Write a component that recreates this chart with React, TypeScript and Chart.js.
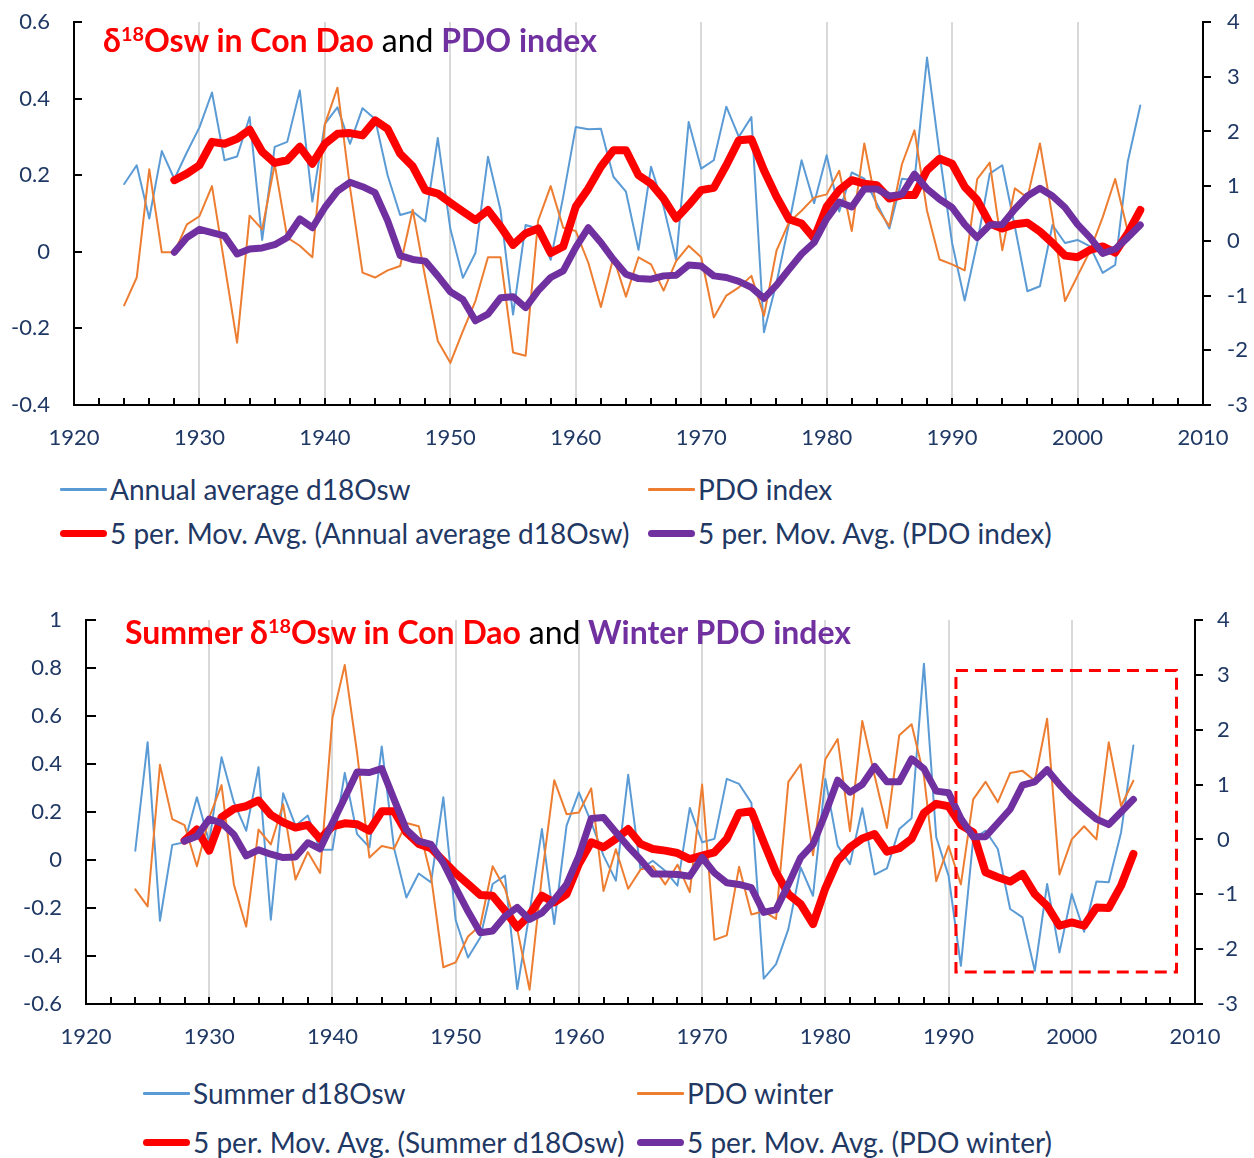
import { useEffect, useRef } from 'react';
import Chart from 'chart.js/auto';

// ---- Data -----------------------------------------------------------------
const FIRST_YEAR = 1924;   // raw series start
const MA_FIRST_YEAR = 1928; // 5-period moving averages start

// Panel 1: annual values
const ANNUAL_D18OSW = [
  0.177, 0.226, 0.087, 0.263, 0.19, 0.26, 0.325, 0.416, 0.239, 0.249,
  0.352, 0.031, 0.274, 0.287, 0.421, 0.131, 0.334, 0.377, 0.282, 0.375,
  0.347, 0.2, 0.096, 0.105, 0.079, 0.297, 0.06, -0.068, -0.003, 0.248,
  0.109, -0.164, 0.07, 0.061, -0.021, 0.144, 0.326, 0.32, 0.321, 0.196,
  0.157, 0.005, 0.222, 0.118, -0.021, 0.339, 0.217, 0.239, 0.379, 0.3,
  0.352, -0.21, -0.081, 0.074, 0.239, 0.127, 0.252, 0.105, 0.207, 0.191,
  0.126, 0.061, 0.191, 0.187, 0.507, 0.256, 0.023, -0.127, 0.023, 0.204,
  0.226, 0.066, -0.103, -0.09, 0.07, 0.023, 0.031, 0.014, -0.055, -0.034,
  0.235, 0.382,
];
const PDO_INDEX = [
  -1.18, -0.67, 1.31, -0.21, -0.21, 0.3, 0.45, 1.0, -0.43, -1.86,
  0.46, 0.21, 1.4, 0.06, -0.09, -0.3, 2.13, 2.8, 0.98, -0.58,
  -0.67, -0.54, -0.46, 0.57, -0.67, -1.83, -2.23, -1.65, -1.1, -0.3,
  -0.3, -2.04, -2.1, 0.37, 1.0, 0.24, 0.18, -0.4, -1.21, -0.3,
  -1.02, -0.3, -0.43, -0.91, -0.37, -0.09, -0.3, -1.4, -1.0, -0.85,
  -0.64, -1.37, -0.18, 0.34, 0.55, 0.79, 0.85, 1.28, 0.18, 1.78,
  0.61, 0.27, 1.4, 2.02, 0.55, -0.34, -0.43, -0.54, 1.13, 1.43,
  -0.17, 0.96, 0.79, 1.78, 0.43, -1.1, -0.64, -0.18, 0.43, 1.13,
  0.18, 0.24,
];
const ANNUAL_D18OSW_MA5 = [
  0.187, 0.204, 0.226, 0.287, 0.282, 0.295, 0.319, 0.261, 0.232, 0.239,
  0.274, 0.23, 0.282, 0.308, 0.31, 0.304, 0.343, 0.321, 0.256, 0.223,
  0.161, 0.152, 0.128, 0.105, 0.083, 0.109, 0.066, 0.018, 0.048, 0.061,
  -0.003, 0.014, 0.118, 0.165, 0.222, 0.265, 0.265, 0.2, 0.178, 0.139,
  0.087, 0.122, 0.161, 0.167, 0.226, 0.291, 0.294, 0.213, 0.144, 0.085,
  0.074, 0.035, 0.118, 0.161, 0.187, 0.178, 0.174, 0.139, 0.148, 0.148,
  0.213, 0.243, 0.23, 0.17, 0.135, 0.074, 0.061, 0.072, 0.076, 0.053,
  0.023, -0.01, -0.014, 0.005, 0.014, -0.002, 0.048, 0.109,
];
const PDO_INDEX_MA5 = [
  -0.21, 0.06, 0.21, 0.15, 0.09, -0.24, -0.15, -0.13, -0.07, 0.06,
  0.4, 0.24, 0.61, 0.91, 1.07, 0.99, 0.88, 0.37, -0.27, -0.34,
  -0.37, -0.64, -0.93, -1.07, -1.46, -1.34, -1.04, -1.02, -1.22, -0.91,
  -0.67, -0.55, -0.12, 0.24, -0.03, -0.34, -0.61, -0.69, -0.7, -0.64,
  -0.63, -0.44, -0.46, -0.64, -0.67, -0.74, -0.85, -1.05, -0.81, -0.52,
  -0.24, -0.03, 0.4, 0.71, 0.62, 0.95, 0.95, 0.82, 0.85, 1.22,
  0.95, 0.76, 0.61, 0.3, 0.06, 0.29, 0.3, 0.58, 0.82, 0.96,
  0.82, 0.61, 0.3, 0.06, -0.23, -0.15, 0.06, 0.29,
];

// Panel 2: seasonal values
const SUMMER_D18OSW = [
  0.039, 0.491, -0.253, 0.063, 0.074, 0.261, 0.074, 0.428, 0.241, 0.122,
  0.387, -0.249, 0.278, 0.143, 0.185, 0.043, 0.043, 0.363, 0.108, 0.053,
  0.473, 0.049, -0.156, -0.056, -0.093, 0.261, -0.25, -0.406, -0.323, -0.1,
  -0.065, -0.538, -0.218, 0.129, -0.267, 0.143, 0.282, 0.157, 0.018, -0.086,
  0.355, -0.038, -0.003, -0.045, -0.107, 0.217, 0.074, 0.088, 0.338, 0.317,
  0.238, -0.494, -0.434, -0.288, -0.031, -0.149, 0.338, 0.06, -0.017, 0.216,
  -0.061, -0.035, 0.129, 0.174, 0.818, 0.095, -0.065, -0.441, 0.088, 0.122,
  0.046, -0.204, -0.239, -0.462, -0.1, -0.385, -0.142, -0.299, -0.09, -0.093,
  0.115, 0.477,
];
const PDO_WINTER = [
  -0.91, -1.22, 1.36, 0.37, 0.26, -0.49, 0.4, 0.99, -0.82, -1.59,
  0.18, -0.09, 0.64, -0.73, -0.23, -0.61, 2.22, 3.18, 1.58, -0.33,
  -0.12, -0.17, 0.3, 0.24, -0.67, -2.33, -2.24, -1.77, -1.57, -0.49,
  -0.9, -1.64, -2.74, -0.67, 1.08, 0.46, 0.49, 0.93, -0.94, -0.18,
  -0.9, -0.55, -0.49, -0.82, -0.46, -0.96, 1.0, -1.83, -1.75, -0.5,
  -1.37, -1.31, -1.45, 1.05, 1.37, -0.29, 1.46, 1.83, 0.15, 2.16,
  1.16, 0.21, 1.9, 2.1, 1.16, -0.76, -0.12, -0.82, 0.73, 1.05,
  0.68, 1.21, 1.25, 1.07, 2.2, -0.64, 0.0, 0.24, 0.0, 1.77,
  0.61, 1.07,
];
const SUMMER_D18OSW_MA5 = [
  0.081, 0.127, 0.039, 0.178, 0.213, 0.224, 0.248, 0.188, 0.157, 0.135,
  0.146, 0.088, 0.14, 0.153, 0.149, 0.122, 0.203, 0.203, 0.115, 0.067,
  0.049, -0.003, -0.055, -0.1, -0.146, -0.149, -0.211, -0.281, -0.229, -0.149,
  -0.177, -0.142, -0.017, 0.074, 0.053, 0.088, 0.129, 0.067, 0.046, 0.039,
  0.029, 0.004, 0.018, 0.032, 0.088, 0.196, 0.203, 0.074, -0.051, -0.142,
  -0.184, -0.267, -0.118, -0.003, 0.053, 0.09, 0.108, 0.035, 0.049, 0.088,
  0.196, 0.234, 0.224, 0.146, 0.115, -0.051, -0.072, -0.09, -0.058, -0.142,
  -0.191, -0.274, -0.26, -0.274, -0.198, -0.2, -0.107, 0.025,
];
const PDO_WINTER_MA5 = [
  -0.03, 0.06, 0.37, 0.3, 0.09, -0.3, -0.19, -0.27, -0.33, -0.32,
  -0.06, -0.17, 0.3, 0.76, 1.23, 1.22, 1.29, 0.73, 0.18, -0.03,
  -0.09, -0.43, -0.88, -1.31, -1.7, -1.67, -1.4, -1.24, -1.46, -1.34,
  -1.1, -0.82, -0.3, 0.38, 0.4, 0.13, -0.13, -0.37, -0.63, -0.63,
  -0.64, -0.67, -0.33, -0.61, -0.79, -0.82, -0.88, -1.33, -1.28, -0.82,
  -0.33, -0.09, 0.47, 1.08, 0.86, 1.0, 1.33, 1.05, 1.05, 1.47,
  1.29, 0.88, 0.85, 0.38, 0.05, 0.05, 0.3, 0.55, 0.99, 1.05,
  1.27, 1.0, 0.76, 0.56, 0.37, 0.27, 0.5, 0.73,
];

// Axis ranges
const YEAR_RANGE = [1920, 2010];
const TOP_LEFT_RANGE = [-0.4, 0.6];
const BOTTOM_LEFT_RANGE = [-0.6, 1.0];
const PDO_RANGE = [-3, 4];

// Highlighted recent period (years, d18Osw units)
const HIGHLIGHT_YEARS = [1990.6, 2008.5];
const HIGHLIGHT_D18O = [-0.467, 0.79];

// ---- Styling --------------------------------------------------------------
const BLUE = '#5B9BD5';
const ORANGE = '#ED7D31';
const RED = '#FF0000';
const PURPLE = '#7030A0';
const NAVY = '#1F3864';
const FONT = 'Lato, "Open Sans", sans-serif';

const toPoints = (start: number, values: number[]) =>
  values.map((v, i) => ({ x: start + i, y: v }));

const fmt = (v: number) => {
  const r = Math.round(v * 10) / 10;
  return Math.abs(r) < 1e-9 ? '0' : String(r);
};

// Tick marks: x every 2 years pointing up, left ticks inside, right ticks outside
const axisTicks = {
  id: 'axisTicks',
  afterDraw(chart: any, _args: any, opts: any) {
    const { ctx, chartArea: a, scales } = chart;
    const x = scales.x, yl = scales.yL, yr = scales.yR;
    ctx.save();
    ctx.strokeStyle = '#000';
    ctx.lineWidth = 2;
    ctx.beginPath();
    for (let yv = YEAR_RANGE[0] + 2; yv < YEAR_RANGE[1]; yv += 2) {
      const px = Math.round(x.getPixelForValue(yv));
      ctx.moveTo(px, a.bottom);
      ctx.lineTo(px, a.bottom - opts.xLen);
    }
    yl.ticks.forEach((t: any) => {
      const py = Math.round(yl.getPixelForValue(t.value));
      ctx.moveTo(a.left, py);
      ctx.lineTo(a.left + opts.leftLen, py);
    });
    yr.ticks.forEach((t: any) => {
      const py = Math.round(yr.getPixelForValue(t.value));
      ctx.moveTo(a.right, py);
      ctx.lineTo(a.right + opts.rightLen, py);
    });
    ctx.stroke();
    ctx.restore();
  },
};

// Dashed frame around the recent period
const highlightBox = {
  id: 'highlightBox',
  afterDatasetsDraw(chart: any, _args: any, opts: any) {
    if (!opts || !opts.enabled) return;
    const { ctx, scales } = chart;
    const x0 = scales.x.getPixelForValue(HIGHLIGHT_YEARS[0]);
    const x1 = scales.x.getPixelForValue(HIGHLIGHT_YEARS[1]);
    const y0 = scales.yL.getPixelForValue(HIGHLIGHT_D18O[1]);
    const y1 = scales.yL.getPixelForValue(HIGHLIGHT_D18O[0]);
    ctx.save();
    ctx.strokeStyle = RED;
    ctx.lineWidth = 3;
    ctx.setLineDash([12, 7]);
    ctx.strokeRect(x0, y0, x1 - x0, y1 - y0);
    ctx.restore();
  },
};

interface PanelProps {
  raw1: number[];
  raw2: number[];
  ma1: number[];
  ma2: number[];
  leftRange: number[];
  leftW: number;
  rightW: number;
  xH: number;
  padTop: number;
  height: number;
  leftGap: number;
  rightGap: number;
  xPad: number;
  leftTickLen: number;
  box: boolean;
}

function Panel(p: PanelProps) {
  const ref = useRef<HTMLCanvasElement>(null);
  useEffect(() => {
    if (!ref.current) return;
    const line = (data: any[], color: string, width: number, axis: string, order: number) => ({
      data,
      borderColor: color,
      backgroundColor: color,
      borderWidth: width,
      pointRadius: 0,
      tension: 0,
      fill: false,
      yAxisID: axis,
      order,
      borderCapStyle: 'round',
      borderJoinStyle: 'round',
    });
    const tickFont = { family: FONT, size: 22 };
    // invisible tick marks only reserve the gap between axis line and labels
    const spacer = (len: number) => ({
      display: true,
      drawOnChartArea: false,
      drawTicks: true,
      tickLength: len,
      tickColor: 'rgba(0,0,0,0)',
      color: 'rgba(0,0,0,0)',
    });
    const chart = new Chart(ref.current, {
      type: 'line',
      data: {
        datasets: [
          line(toPoints(FIRST_YEAR, p.raw1), BLUE, 2, 'yL', 4),
          line(toPoints(FIRST_YEAR, p.raw2), ORANGE, 2, 'yR', 3),
          line(toPoints(MA_FIRST_YEAR, p.ma1), RED, 8, 'yL', 2),
          line(toPoints(MA_FIRST_YEAR, p.ma2), PURPLE, 7, 'yR', 1),
        ] as any,
      },
      options: {
        animation: false,
        responsive: false,
        devicePixelRatio: 1,
        layout: { padding: { top: p.padTop, left: 0, right: 0, bottom: 0 } },
        plugins: {
          legend: { display: false },
          tooltip: { enabled: false },
          axisTicks: { xLen: 7, leftLen: p.leftTickLen, rightLen: 8 },
          highlightBox: { enabled: p.box },
        } as any,
        scales: {
          x: {
            type: 'linear',
            min: YEAR_RANGE[0],
            max: YEAR_RANGE[1],
            afterFit: (s: any) => { s.height = p.xH; },
            ticks: {
              stepSize: 10,
              font: tickFont,
              color: NAVY,
              padding: p.xPad,
              maxRotation: 0,
              callback: (v: any) => String(v),
            },
            grid: {
              drawTicks: false,
              lineWidth: 2,
              color: (c: any) =>
                c.tick && (c.tick.value === YEAR_RANGE[0] || c.tick.value === YEAR_RANGE[1])
                  ? 'rgba(0,0,0,0)'
                  : '#D9D9D9',
            },
            border: { display: true, color: '#000', width: 2 },
          },
          yL: {
            type: 'linear',
            position: 'left',
            min: p.leftRange[0],
            max: p.leftRange[1],
            afterFit: (s: any) => { s.width = p.leftW; },
            ticks: { stepSize: 0.2, font: tickFont, color: NAVY, padding: 0, callback: (v: any) => fmt(v) },
            grid: spacer(p.leftGap),
            border: { display: true, color: '#000', width: 2 },
          },
          yR: {
            type: 'linear',
            position: 'right',
            min: PDO_RANGE[0],
            max: PDO_RANGE[1],
            afterFit: (s: any) => { s.width = p.rightW; },
            ticks: { stepSize: 1, font: tickFont, color: NAVY, padding: 0, callback: (v: any) => fmt(v) },
            grid: spacer(p.rightGap),
            border: { display: true, color: '#000', width: 2 },
          },
        },
      } as any,
      plugins: [axisTicks, highlightBox],
    });
    return () => chart.destroy();
  }, []);
  return <canvas ref={ref} width={1254} height={p.height} style={{ display: 'block', width: 1254, height: p.height }} />;
}

const sup = { fontSize: '0.62em', position: 'relative' as const, top: '-0.55em', verticalAlign: 'baseline' };

function LegendItem({ left, top, color, thick, label }: { left: number; top: number; color: string; thick: boolean; label: string }) {
  return (
    <div style={{ position: 'absolute', left, top: top - 17, height: 34, display: 'flex', alignItems: 'center', whiteSpace: 'nowrap' }}>
      <span
        style={{
          display: 'inline-block',
          width: 47,
          height: thick ? 7 : 3,
          borderRadius: thick ? 4 : 1,
          background: color,
        }}
      />
      <span style={{ marginLeft: 3, font: `28px ${FONT}`, color: NAVY }}>{label}</span>
    </div>
  );
}

export default function App() {
  return (
    <div style={{ position: 'absolute', left: 0, top: 0, width: 1254, height: 1158, background: '#fff', overflow: 'hidden' }}>
      <div style={{ position: 'absolute', left: 0, top: 0 }}>
        <Panel
          raw1={ANNUAL_D18OSW}
          raw2={PDO_INDEX}
          ma1={ANNUAL_D18OSW_MA5}
          ma2={PDO_INDEX_MA5}
          leftRange={TOP_LEFT_RANGE}
          leftW={74}
          rightW={51}
          xH={55}
          padTop={22}
          height={460}
          leftGap={24}
          rightGap={24}
          xPad={20}
          leftTickLen={8}
          box={false}
        />
      </div>
      <div style={{ position: 'absolute', left: 103, top: 20, font: `bold 32px ${FONT}`, whiteSpace: 'nowrap', lineHeight: '40px' }}>
        <span style={{ color: RED }}>δ<span style={sup}>18</span>Osw in Con Dao</span>{' '}
        <span style={{ color: '#000', fontWeight: 'normal' }}>and</span>{' '}
        <span style={{ color: PURPLE }}>PDO index</span>
      </div>
      <LegendItem left={60} top={489} color={BLUE} thick={false} label="Annual average d18Osw" />
      <LegendItem left={648} top={489} color={ORANGE} thick={false} label="PDO index" />
      <LegendItem left={60} top={533} color={RED} thick={true} label="5 per. Mov. Avg. (Annual average d18Osw)" />
      <LegendItem left={648} top={533} color={PURPLE} thick={true} label="5 per. Mov. Avg. (PDO index)" />

      <div style={{ position: 'absolute', left: 0, top: 590 }}>
        <Panel
          raw1={SUMMER_D18OSW}
          raw2={PDO_WINTER}
          ma1={SUMMER_D18OSW_MA5}
          ma2={PDO_WINTER_MA5}
          leftRange={BOTTOM_LEFT_RANGE}
          leftW={86}
          rightW={59}
          xH={56}
          padTop={30}
          height={470}
          leftGap={24}
          rightGap={22}
          xPad={20}
          leftTickLen={10}
          box={true}
        />
      </div>
      <div style={{ position: 'absolute', left: 125, top: 612, font: `bold 32px ${FONT}`, whiteSpace: 'nowrap', lineHeight: '40px' }}>
        <span style={{ color: RED }}>Summer δ<span style={sup}>18</span>Osw in Con Dao</span>{' '}
        <span style={{ color: '#000', fontWeight: 'normal' }}>and</span>{' '}
        <span style={{ color: PURPLE }}>Winter PDO index</span>
      </div>
      <LegendItem left={143} top={1093} color={BLUE} thick={false} label="Summer d18Osw" />
      <LegendItem left={637} top={1093} color={ORANGE} thick={false} label="PDO winter" />
      <LegendItem left={143} top={1142} color={RED} thick={true} label="5 per. Mov. Avg. (Summer d18Osw)" />
      <LegendItem left={637} top={1142} color={PURPLE} thick={true} label="5 per. Mov. Avg. (PDO winter)" />
    </div>
  );
}
